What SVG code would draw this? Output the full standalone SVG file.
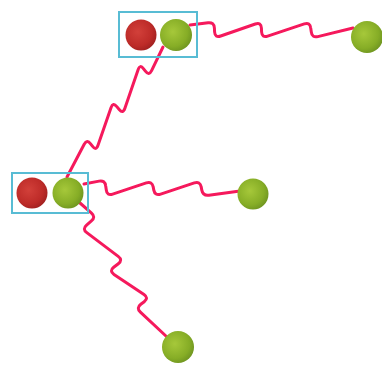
<svg xmlns="http://www.w3.org/2000/svg" width="382" height="368" viewBox="0 0 382 368">
<defs>
<radialGradient id="gG" cx="0.4" cy="0.4" r="0.65">
<stop offset="0" stop-color="#a6c83a"/>
<stop offset="0.7" stop-color="#86ad26"/>
<stop offset="1" stop-color="#6e9420"/>
</radialGradient>
<radialGradient id="gR" cx="0.4" cy="0.4" r="0.65">
<stop offset="0" stop-color="#d2403a"/>
<stop offset="0.7" stop-color="#bd2b28"/>
<stop offset="1" stop-color="#a02020"/>
</radialGradient>
<style>
.w{fill:none;stroke:#f5195c;stroke-width:3;stroke-linejoin:round;stroke-linecap:round}
.box{fill:none;stroke:#58bcd4;stroke-width:2}
.g{fill:url(#gG)}
.r{fill:url(#gR)}
</style>
</defs>
<g id="connectors">
<path class="w" d="M190,25 L208.1,22.7 Q214,22 214.4,28 L214.6,32 Q215,38 220.7,36 L255.3,24 Q261,22 261.4,28 L261.6,32 Q262,38 267.7,36.1 L304.3,23.9 Q310,22 310.7,28 L311.3,32 Q312,38 317.8,36.6 L353,28"/>
<path class="w" d="M84,184 L99.1,181.1 Q105,180 105.7,186 L106.3,190 Q107,196 112.7,194.1 L146.3,182.9 Q152,181 153.2,186.9 L153.8,190.1 Q155,196 160.7,194.1 L194.3,182.9 Q200,181 201.2,186.9 L201.8,190.1 Q203,196 208.9,195.2 L240,191"/>
<path class="w" d="M67,177 L84.2,144.3 Q87,139 90.6,143.8 L92.4,146.2 Q96,151 98,145.3 L111,107.7 Q113,102 116.8,106.6 L119.2,109.4 Q123,114 124.9,108.3 L138.1,69.7 Q140,64 143.6,68.8 L145.4,71.2 Q149,76 151.6,70.6 L163,47"/>
<path class="w" d="M80,203 L91.5,213.1 Q96,217 91.4,220.9 L86.6,225.1 Q82,229 86.8,232.6 L118.2,256.4 Q123,260 118.3,263.7 L113.7,267.3 Q109,271 114,274.4 L144,294.6 Q149,298 144.2,301.7 L140.8,304.3 Q136,308 140.4,312.1 L167,337"/>
</g>
<g id="pair-top">
<rect class="box" x="119" y="12" width="78" height="45"/>
<circle class="r" cx="141" cy="35" r="15.5"/>
<circle class="g" cx="176" cy="35" r="16"/>
</g>
<g id="pair-left">
<rect class="box" x="12" y="173" width="76" height="40"/>
<circle class="r" cx="32" cy="193" r="15.5"/>
<circle class="g" cx="68" cy="193" r="15.5"/>
</g>
<g id="node-right-top"><circle class="g" cx="367" cy="37" r="16"/></g>
<g id="node-mid"><circle class="g" cx="253" cy="194" r="15.5"/></g>
<g id="node-bottom"><circle class="g" cx="178" cy="347" r="16"/></g>
</svg>
